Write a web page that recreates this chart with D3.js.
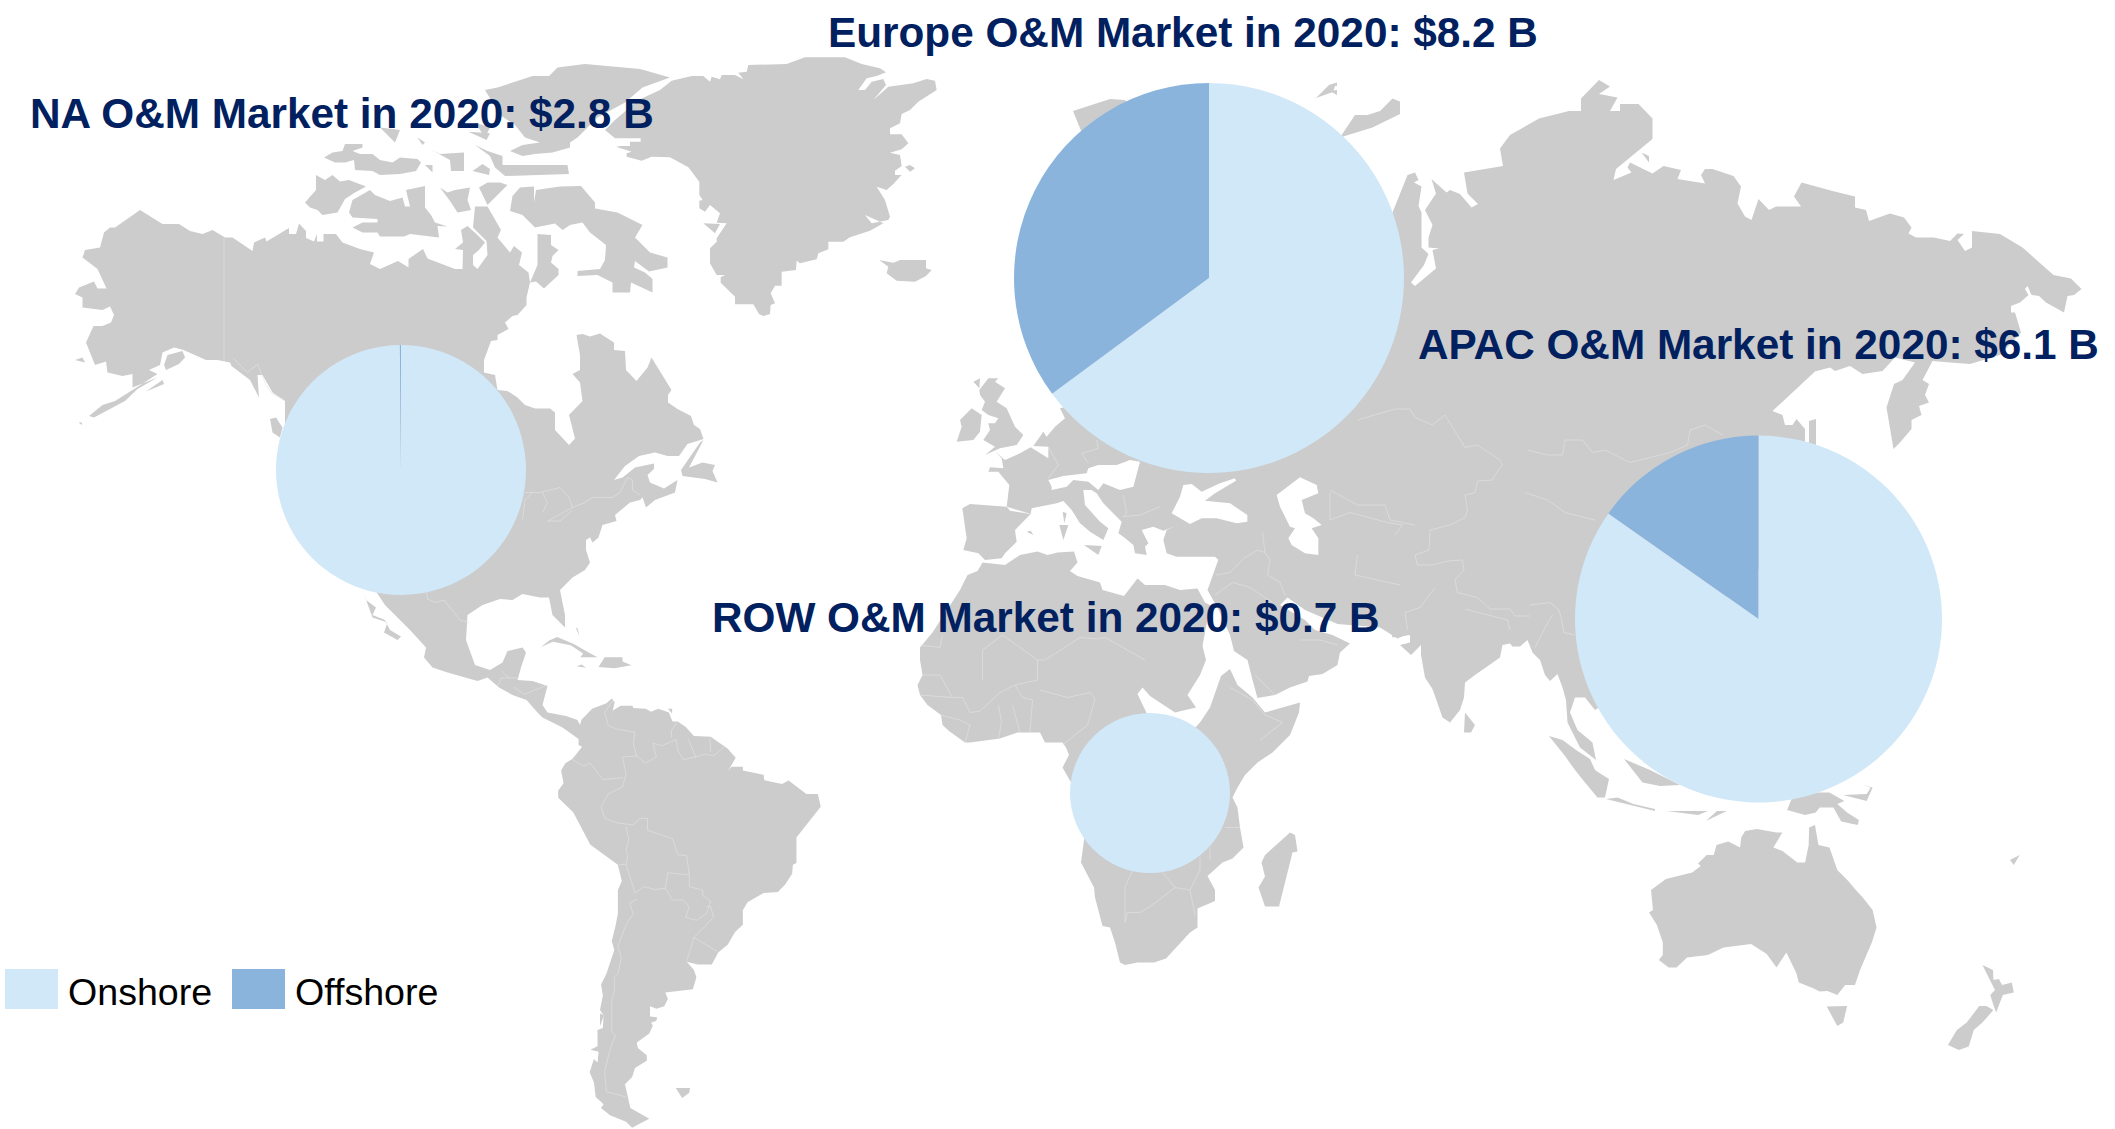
<!DOCTYPE html>
<html>
<head>
<meta charset="utf-8">
<script src="https://cdn.jsdelivr.net/npm/d3@7"></script>
<style>
  html, body { margin: 0; padding: 0; background: #fff; }
  svg { display: block; }
  text { font-family: "Liberation Sans", Arial, sans-serif; }
</style>
</head>
<body>
<svg id="chart" width="2115" height="1129"></svg>
<script>
// market values, $B
var regions = ["NA", "Europe", "APAC", "ROW"];
var marketTotal = [2.8, 8.2, 6.1, 0.7];
var onshore = [2.796, 5.32, 5.17, 0.7];
var offshore = [0.004, 2.88, 0.93, 0];
var seriesNames = ["Onshore", "Offshore"];
var seriesColors = ["#d1e8f8", "#8bb4dc"];

// where each region's pie and title sit on the page
var pieCenter = [[401, 470], [1209, 278], [1758.5, 619], [1150, 793]];
var titleAnchor = [[30, 127.5], [828, 47], [1418, 358.5], [712, 631.5]];

// pies are not quite area scaled in the original
var radius = d3.scaleLinear().domain([0.7, 2.8, 6.1, 8.2]).range([80, 125, 183.5, 195]);

var tiles = {
  na: [60, 40, 2, 2],
  eu: [880, 340, 2, 2],
  ez: [900, 340, 3, 3],
  as: [1330, 50, 2, 2],
  oc: [1500, 345, 1568 / 615, 2],
  sa: [360, 560, 2.8, 2.756],
  gn: [560, 40, 3, 3],
  ar: [300, 60, 3, 3],
  px: [0, 0, 1, 1]
};

// each entry: tile, outer ring, then holes
var land = [
  // Alaska, Canada, USA, Mexico, Central America
  ["na", "160,340 205,368 238,368 260,382 285,388 305,380 330,395 345,395 385,422 388,405 410,395 413,403 458,376 458,388 472,388 478,367 492,382 492,396 508,403 514,388 514,403 527,403 527,388 552,388 565,405 600,418 628,425 620,448 640,458 676,442 697,455 697,438 726,418 735,437 790,458 805,458 806,420 790,418 806,405 802,380 815,372 835,390 850,405 838,420 826,430 826,450 835,458 855,430 853,402 826,375 830,333 855,333 882,380 875,395 900,425 908,412 924,425 918,450 937,465 940,485 952,483 968,497 997,470 997,458 982,445 985,432 997,420 982,410 982,390 955,388 955,450 940,485 933,515 933,530 915,550 905,552 890,565 897,578 875,590 875,600 862,602 848,640 848,665 870,670 875,700 895,702 915,715 930,730 950,737 980,737 990,745 990,780 1018,810 1030,797 1018,750 1045,722 1040,685 1025,668 1040,660 1040,630 1033,590 1045,588 1060,593 1080,587 1108,605 1108,620 1130,622 1132,660 1153,682 1175,655 1183,635 1223,700 1216,710 1216,725 1235,738 1262,752 1268,770 1280,778 1287,798 1255,808 1238,832 1215,832 1190,825 1158,832 1130,852 1108,880 1125,875 1150,855 1188,847 1188,858 1175,870 1180,885 1208,897 1235,880 1230,905 1190,920 1172,935 1165,915 1160,920 1140,925 1110,950 1113,962 1085,970 1077,995 1065,1005 1060,995 1052,1000 1052,1020 1060,1045 1050,1060 1025,1075 1000,1100 1010,1150 1010,1175 985,1150 978,1115 960,1115 925,1108 905,1120 880,1118 845,1130 815,1150 812,1200 830,1250 860,1260 885,1245 895,1222 925,1215 932,1225 922,1255 915,1280 945,1282 975,1292 965,1330 975,1345 1012,1352 1035,1360 1045,1380 1040,1400 1005,1375 985,1365 965,1355 955,1345 933,1320 905,1310 878,1295 855,1275 835,1282 775,1265 745,1255 728,1235 732,1215 700,1180 685,1165 675,1155 650,1130 630,1100 560,1050 470,800 450,770 450,722 425,705 405,670 395,670 398,715 380,680 343,652 340,645 315,640 292,640 247,620 228,615 205,625 200,650 178,660 195,668 145,700 110,722 85,730 58,752 68,755 130,722 155,698 195,675 145,695 145,668 125,672 95,665 92,643 70,650 52,605 67,572 85,572 102,565 108,550 100,533 85,540 45,535 45,515 30,508 38,495 68,483 75,497 93,497 75,458 45,435 50,420 80,415 88,385 100,375 110,375 140,355"],
  ["na", "605,1100 612,1120 632,1135 625,1150 650,1160 660,1180 682,1193 675,1200 648,1185 655,1165 625,1155 612,1125"],
  ["na", "245,622 250,635 238,648 212,660 208,650 215,630 228,615"],
  ["na", "172,703 205,680 208,688 180,710"],
  ["na", "30,640 45,635 50,645 42,650"],
  ["na", "37,765 44,765 44,770 37,770"],
  ["na", "420,758 432,755 445,775 440,795 425,785 428,770"],
  // Arctic islands
  ["na", "578,345 585,320 620,300 630,310 650,318 660,322 685,315 690,333 700,333 692,300 730,292 730,335 742,350 750,365 775,373 755,372 758,395 700,388 688,393 640,393 635,385 605,385 585,375 605,365 635,365 635,358 585,355 570,345"],
  ["na", "512,270 530,280 545,270 560,283 578,280 612,293 590,305 570,318 555,345 525,350 515,340 500,335 490,325 512,300 510,285"],
  ["na", "528,235 545,225 565,222 570,208 605,208 605,215 585,222 600,228 625,228 640,240 665,245 680,235 715,238 722,245 712,262 680,268 640,270 625,262 590,260 588,240 570,245 550,245 530,240"],
  ["na", "760,295 775,305 790,300 820,295 815,320 822,340 795,345 780,322 760,318"],
  ["na", "838,295 855,285 880,285 895,290 875,310 855,330 838,328"],
  ["na", "730,250 745,250 745,265 730,265"],
  ["na", "740,218 760,228 808,225 808,262 782,262 780,240 745,242"],
  ["na", "825,262 845,248 860,258 858,270 830,268"],
  ["na", "830,210 855,222 885,232 885,250 1015,250 1018,268 890,272 870,255 860,232 835,225"],
  ["na", "850,100 875,95 945,72 978,72 995,55 1050,48 1160,58 1220,75 1165,95 1130,125 1075,155 1035,195 1020,205 1020,215 985,225 950,228 925,232 900,222 925,210 960,205 930,195 910,170 880,150 860,130"],
  ["na", "640,175 680,180 670,205 640,205"],
  ["na", "715,195 730,205 725,210 715,205"],
  ["na", "830,165 860,175 850,195 825,190"],
  ["ar", "350,235 375,250 365,260"],
  ["ar", "505,215 570,220 560,240 530,235"],
  ["ar", "950,258 990,258 990,268 950,268"],
  ["na", "900,342 905,312 920,295 948,293 948,325 952,300 1000,293 1042,292 1070,325 1070,337 1115,345 1165,370 1150,395 1180,425 1215,435 1215,455 1178,463 1150,442 1148,455 1170,465 1185,478 1185,505 1142,485 1140,505 1105,505 1105,485 1075,470 1035,472 1035,462 1080,458 1090,440 1092,410 1060,385 1045,365 1020,370 1005,380 990,367 950,375 925,350 905,350"],
  ["na", "1012,722 1025,715 1025,728"],
  ["na", "1280,805 1287,800 1258,855 1285,845 1310,850 1305,862 1315,885 1290,878 1245,872 1242,860 1258,835"],
  // Greenland, Iceland
  ["gn", "335,122 395,108 430,108 450,125 455,110 480,118 485,105 525,105 550,118 535,98 560,95 565,75 680,72 735,52 855,52 905,72 960,85 978,97 950,108 920,115 895,150 915,150 935,125 970,117 978,135 940,180 985,140 1060,130 1100,117 1125,122 1130,150 1075,185 1050,210 1025,222 1020,250 990,265 990,283 1025,283 1045,310 1025,328 990,338 1020,345 1025,378 1005,392 1005,405 1025,405 1000,432 980,450 950,440 975,480 990,530 985,540 935,550 915,525 970,550 930,572 870,592 850,605 805,605 805,628 775,640 770,658 720,670 710,662 708,690 665,695 665,737 645,737 632,760 645,790 632,795 630,822 610,828 597,822 580,793 525,793 525,770 482,728 482,712 495,705 470,705 450,670 450,625 470,605 470,595 500,550 470,548 480,520 450,495 435,515 418,505 418,482 428,480 418,465 418,425 385,382 330,352 275,350 245,362 200,350 200,340 215,335 168,320 210,318 210,305 242,305 242,295 165,295 135,270 165,240 235,180 300,150 325,125"],
  ["gn", "430,550 480,552 465,580 440,582"],
  ["gn", "1035,380 1050,375 1065,385 1050,395 1035,395"],
  ["gn", "958,660 1000,668 1020,660 1050,660 1098,660 1098,685 1115,690 1098,708 1065,725 1010,722 980,700 985,680 960,672"],
  // Caribbean and South America
  ["sa", "507,240 530,222 552,212 600,232 640,255 665,268 617,268 625,258 590,235 540,225 520,242"],
  ["sa", "668,295 685,268 735,268 735,280 760,290 712,298 705,290"],
  ["sa", "607,293 620,288 633,297 622,305"],
  ["sa", "785,288 803,297 785,297"],
  ["sa", "604,185 610,190 614,210 606,205"],
  ["sa", "617,158 635,190 622,175"],
  ["sa", "862,410 874,410 874,423 862,423"],
  ["sa", "862,325 872,325 865,333"],
  ["sa", "395,578 406,578 405,587"],
  ["sa", "884,1455 924,1455 922,1468 902,1483 885,1470"],
  ["sa", "620,440 650,410 690,395 705,382 713,392 703,435 708,415 730,402 763,402 765,408 800,410 815,418 835,410 865,420 875,445 890,445 912,460 935,485 982,487 1030,520 1052,545 1030,582 1040,570 1072,570 1072,580 1130,592 1132,607 1182,617 1200,608 1250,645 1282,645 1290,680 1222,765 1222,835 1212,840 1210,865 1190,895 1170,915 1130,918 1085,943 1072,965 1072,1005 1050,1025 1030,1060 1003,1082 985,1115 945,1115 915,1107 935,1130 942,1150 932,1183 855,1192 862,1210 852,1230 830,1237 812,1230 812,1258 832,1260 830,1270 815,1275 820,1283 810,1305 775,1330 778,1345 803,1365 803,1380 770,1400 762,1425 742,1445 757,1510 810,1540 780,1555 762,1565 745,1548 700,1530 675,1510 682,1500 660,1480 655,1440 643,1412 655,1375 665,1385 668,1355 645,1350 665,1340 665,1295 680,1290 682,1255 672,1240 680,1200 675,1170 690,1140 712,1075 705,1050 715,1010 722,975 722,910 733,885 722,840 645,785 597,695 555,655 555,635 570,615 563,580 575,560 595,548 622,515 612,510 612,470 620,450"],
  ["sa", "672,1250 683,1255 672,1285 665,1278"],
  // Africa
  ["eu", "160,500 175,470 195,462 205,445 250,450 280,430 315,423 335,430 355,425 388,423 395,445 380,462 395,472 440,485 445,500 488,512 515,477 530,490 570,490 600,500 635,497 650,525 660,530 645,612 652,640 640,670 615,710 632,735 590,745 540,712 525,695 515,708 535,750 480,900 385,890 365,855 378,830 372,815 365,805 330,805 320,785 275,785 240,797 180,805 170,805 138,782 125,770 122,750 95,730 80,710 75,690 85,670 80,640 80,615 105,585 130,530"],
  ["eu", "640,765 660,735 682,672 700,658 715,690 745,715 770,745 840,725 838,745 820,790 785,825 755,845 730,870 715,895 705,915 715,935 720,975 727,1015 705,1037 685,1045 655,1072 670,1100 670,1122 635,1137 635,1175 620,1185 572,1237 548,1245 515,1245 490,1250 480,1245 470,1205 460,1175 445,1172 430,1115 428,1095 402,1045 408,1000 430,900 560,850 660,790"],
  ["eu", "820,985 830,990 835,1023 825,1025 798,1133 770,1133 757,1095 770,1073 763,1045 770,1030 805,1010"],
  ["eu", "913,1072 920,1080 913,1080"],
  // Europe and the Mediterranean, with the Black Sea, Caspian and the blank central patch as holes
  ["ez", "320,500 328,435 295,395 265,395 270,382 310,385 305,355 285,335 315,360 360,340 392,322 445,355 445,320 400,318 430,275 440,290 465,260 495,235 480,205 700,150 1450,150 1450,700 1000,700 945,650 880,650 830,650 800,640 790,600 800,570 835,555 830,557 790,572 760,560 725,570 745,610 735,620 740,645 705,640 700,615 670,590 655,580 665,545 610,490 590,460 575,450 550,450 555,495 600,545 625,565 610,600 570,575 540,550 515,510 490,483 470,490 395,505 392,522 330,512",
    "815,520 840,470 850,435 875,432 905,455 960,430 1005,415 1008,422 945,460 915,482 990,490 1042,525 1042,545 1010,550 950,535 905,535 870,552 825,552",
    "1200,412 1250,435 1255,460 1205,480 1215,520 1240,535 1265,555 1235,565 1255,595 1255,645 1215,640 1175,615 1165,595 1185,565 1170,560 1140,500 1130,465 1165,425",
    "445,420 455,440 455,450 500,440 520,420 565,425 595,450 610,430 660,450 700,440 720,365 690,360 650,375 595,375 565,385 560,400 490,408 450,412"],
  ["ez", "187,505 210,492 320,500 330,512 392,522 345,570 350,605 315,640 305,655 255,660 235,640 190,630 200,595 190,580"],
  ["ez", "265,115 295,115 285,125 315,145 290,185 320,205 345,260 370,285 350,315 300,325 255,345 285,320 250,300 270,270 265,250 285,250 295,235 265,225 245,210 255,185 240,165 238,150 255,125"],
  ["ez", "180,240 215,205 245,225 240,275 220,300 170,305 185,260 178,245"],
  ["ez", "220,125 240,115 238,145 222,140"],
  ["ez", "478,555 505,555 490,600 480,590"],
  ["ez", "488,515 500,520 493,550 487,548"],
  ["ez", "552,615 605,618 595,645 565,630"],
  ["ez", "380,575 392,572 400,585 390,592"],
  ["ez", "745,672 785,672 745,680"],
  ["ez", "885,680 925,665 900,688"],
  ["px", "1073,111 1110,99 1125,100 1200,200 1150,300 1073,125"],
  ["px", "1316,98 1329,85 1336,83 1333,92 1324,99"],
  // Middle East
  ["eu", "680,430 1100,430 1100,570 1035,597 1000,575 915,568 850,540 815,515 800,530 850,560 870,580 905,590 940,607 920,625 915,650 885,668 858,672 855,683 820,695 790,710 755,716 745,680 735,640 708,622 700,590 680,545 655,500 672,470"],
  // Russia, China, India, Japan, Indochina
  ["as", "125,325 155,250 170,245 177,260 168,265 183,273 177,312 183,325 183,395 197,408 188,430 162,465 170,472 212,437 205,400 218,397 197,395 197,375 205,350 190,320 212,287 203,258 233,285 240,280 260,288 283,315 296,308 275,287 268,245 346,232 340,197 360,170 418,137 478,122 502,122 502,97 538,60 560,73 538,88 575,95 560,122 580,122 580,108 617,108 645,137 645,178 572,238 567,260 603,245 595,235 600,225 645,247 667,232 702,240 695,258 750,267 742,250 750,238 765,238 807,252 822,273 815,307 830,333 843,340 857,298 878,320 892,313 942,313 928,293 943,265 1005,282 1050,293 1050,315 1072,320 1078,342 1120,327 1148,335 1163,355 1157,367 1172,375 1208,375 1240,382 1255,367 1268,368 1255,380 1270,402 1284,395 1284,362 1340,368 1385,395 1447,450 1482,457 1503,478 1488,490 1475,492 1468,525 1432,505 1418,492 1403,490 1395,472 1390,478 1397,490 1380,505 1362,512 1362,525 1370,525 1382,565 1340,610 1280,628 1240,625 1205,622 1185,660 1198,668 1190,690 1198,705 1178,712 1183,730 1163,740 1163,758 1140,785 1127,798 1113,715 1128,668 1145,660 1170,625 1130,615 1105,642 1065,648 1040,632 1010,642 1000,635 970,643 885,722 905,730 910,750 925,750 933,738 950,758 950,785 958,785 958,742 972,738 972,795 900,1000 560,1300 530,1320 510,1295 490,1295 480,1325 495,1360 525,1385 532,1420 500,1395 475,1345 472,1300 465,1275 455,1248 440,1262 430,1250 420,1220 405,1205 395,1180 380,1193 365,1193 360,1187 345,1190 340,1215 290,1250 270,1265 268,1295 260,1320 240,1345 225,1335 205,1278 190,1255 182,1210 182,1190 162,1210 140,1190 160,1185 160,1170 125,1175 120,1155 60,1150 0,1130 10,700"],
  ["as", "20,175 50,130 75,130 100,122 125,97 140,103 140,128 85,155 45,185"],
  ["as", "0,70 14,65 14,72 0,78"],
  ["as", "0,82 14,80 14,90 0,90"],
  ["as", "623,205 638,212 638,225 625,215"],
  ["as", "1105,805 1120,797 1110,812"],
  ["as", "270,1325 290,1350 282,1365 268,1365 260,1345"],
  ["as", "438,1372 465,1380 495,1402 520,1418 530,1440 545,1450 558,1458 550,1495 535,1495 510,1465 490,1440 470,1412 438,1385"],
  ["as", "588,1418 640,1440 700,1470 660,1472 625,1465 610,1460"],
  // Indonesia, Australia, Pacific
  ["oc", "270,908 300,905 340,918 395,928 395,932 305,925"],
  ["oc", "425,932 530,932 505,940 455,935 425,940"],
  ["oc", "460,945 490,952 465,950"],
  ["oc", "525,952 553,932 578,932 545,953"],
  ["oc", "732,930 745,905 775,895 840,895 878,912 860,918 885,935 915,950 912,960 870,953 850,925 815,925 805,935 778,940 760,928"],
  ["oc", "875,900 935,898 945,885 925,880 950,885 935,912 900,912"],
  ["oc", "470,885 480,905 470,905"],
  ["oc", "980,900 995,915 985,915"],
  ["oc", "1040,940 1058,948 1045,948"],
  ["oc", "1150,1002 1158,1008 1151,1015"],
  ["oc", "1300,1030 1325,1020 1310,1040 1295,1042"],
  ["oc", "1113,1063 1147,1090 1135,1088"],
  ["oc", "385,1090 423,1068 490,1055 512,1042 505,1037 527,1020 545,1020 552,1000 582,993 612,1005 615,985 625,972 655,968 705,975 720,975 697,1005 720,1012 758,1035 778,1035 787,1000 788,965 803,960 812,1000 840,1005 860,1050 888,1072 905,1088 925,1105 950,1130 960,1165 948,1195 918,1250 905,1280 880,1280 860,1300 835,1292 815,1293 800,1287 762,1275 755,1255 730,1215 705,1245 680,1218 640,1198 570,1205 530,1220 477,1225 450,1245 430,1245 405,1230 415,1220 415,1195 400,1160 380,1135 390,1130 380,1105"],
  ["oc", "833,1323 885,1322 875,1355 860,1362 842,1355"],
  ["oc", "1230,1240 1257,1250 1258,1270 1272,1268 1280,1280 1305,1275 1310,1295 1282,1300 1265,1335 1258,1320 1250,1300 1262,1290 1258,1272"],
  ["oc", "1222,1322 1240,1322 1258,1330 1230,1355 1208,1370 1195,1403 1170,1410 1142,1400 1165,1370 1190,1355 1210,1340"]
];

var borders = [
  ["na", "328,395 328,642"],
  ["na", "345,635 375,665 395,648 412,690 425,708 448,720"],
  ["na", "733,1100 735,1118 750,1125 768,1120 800,1160 818,1165"],
  ["na", "930,905 960,905 1000,895 1018,915 1025,935 1050,925 1065,915 1105,915 1120,905 1135,875 1145,880 1145,900 1160,910"],
  ["na", "925,960 930,920 945,905"],
  ["na", "965,905 975,925 965,945"],
  ["na", "1025,935 975,962 1000,962 1025,940"],
  ["sa", "395,305 418,325 445,325"],
  ["sa", "385,350 395,325 418,325"],
  ["sa", "430,350 460,370 525,345"],
  ["sa", "710,385 685,420 695,455 715,465 770,475 765,505 775,540 800,560 830,543 820,505 845,512 885,495 890,525 905,550 940,543 965,535 990,540 1020,515"],
  ["sa", "890,445 872,470 872,490"],
  ["sa", "920,495 940,543"],
  ["sa", "980,490 982,530"],
  ["sa", "735,543 775,540"],
  ["sa", "735,543 745,590 735,625 695,645 675,680 685,712 722,725 765,730 785,712 805,712"],
  ["sa", "595,550 625,568 645,560 680,605 735,600"],
  ["sa", "745,735 753,770 745,800 750,815 745,838 725,840"],
  ["sa", "805,712 805,745 875,768 890,812 915,815 922,868 862,862 855,905 825,908 795,900 770,918 745,838"],
  ["sa", "855,905 875,937 905,937 922,955 912,985 942,993 970,975 982,940 960,925 960,910 922,900 922,868"],
  ["sa", "755,945 765,975 745,1005 722,1065 732,1095 722,1140 712,1150 712,1190 705,1210 705,1300 715,1310 700,1350 685,1410 690,1465 745,1480"],
  ["sa", "755,945 775,935"],
  ["sa", "915,1105 935,1040 1002,1080"],
  ["sa", "935,1040 990,985 982,955 970,955"],
  ["eu", "85,670 120,670 145,715 80,710"],
  ["eu", "145,715 165,715 180,745 200,742 240,705 270,690 315,680 315,640 245,590 205,620 205,680"],
  ["eu", "315,640 330,640 400,595 435,598 450,595 530,640"],
  ["eu", "270,690 285,715 305,720 300,785"],
  ["eu", "237,730 243,765 237,797"],
  ["eu", "265,730 280,785"],
  ["eu", "120,750 160,760 180,770 170,805"],
  ["eu", "320,700 375,715 420,705 430,718 415,770 365,810"],
  ["eu", "80,610 120,615 125,590"],
  ["eu", "490,1165 490,1095 505,1060"],
  ["eu", "490,1165 495,1145 520,1145 545,1130 590,1095 620,1100 640,1060 640,1035"],
  ["eu", "590,1095 565,1065"],
  ["eu", "700,695 745,720 770,750 805,765 760,800"],
  ["eu", "620,1100 630,1150"],
  ["eu", "660,1015 660,1040"],
  ["eu", "690,975 720,975"],
  ["eu", "765,385 770,425 780,440 775,470 800,485 810,510"],
  ["eu", "670,510 705,485 740,495 785,525"],
  ["eu", "672,470 700,465 730,435 755,420 770,425"],
  ["eu", "790,710 750,670"],
  ["eu", "840,600 880,600 915,610"],
  ["eu", "955,430 950,470 1040,490"],
  ["eu", "900,305 900,360 940,345 1015,365 1045,370 1030,390"],
  ["ez", "320,500 390,522"],
  ["ez", "445,320 475,375 445,415"],
  ["ez", "590,300 595,325 545,340 565,370"],
  ["ez", "670,465 680,520 670,530 720,525 780,500"],
  ["as", "55,740 130,718 160,718 170,735 205,750 230,730 270,795 295,790 340,820 345,830"],
  ["as", "395,800 435,810 465,810 470,780 505,780 525,805 550,800 600,825 640,815 680,805 715,790 720,760 750,750 785,770"],
  ["as", "345,830 330,850 325,860 295,862 290,885 270,890 275,920 270,935 240,950 200,960 198,1000 170,1010 175,1030"],
  ["as", "390,885 435,900 470,925 530,940"],
  ["as", "175,1030 205,1030 235,1022 265,1020 268,1040 250,1060 255,1085 295,1095 320,1118 360,1118 370,1132 400,1132"],
  ["as", "400,1110 440,1105 458,1120 462,1135 468,1165 490,1170"],
  ["as", "270,1118 355,1140 360,1160"],
  ["as", "210,1075 180,1115 150,1125 155,1160"],
  ["as", "0,880 55,910 110,910 120,940 170,950"],
  ["as", "410,1195 430,1155 445,1130"]
];

function parseRing(tile, str) {
  var t = tiles[tile];
  return str.split(" ").map(function(p) {
    var xy = p.split(",");
    return [t[0] + xy[0] / t[2], t[1] + xy[1] / t[3]];
  });
}

var svg = d3.select("#chart");
var geoPath = d3.geoPath(d3.geoIdentity());

/* base map */
var mapGroup = svg.append("g").attr("class", "map");

mapGroup.selectAll("path.land")
  .data(land)
  .enter().append("path")
  .attr("class", "land")
  .attr("fill", "#cccccc")
  .attr("fill-rule", "evenodd")
  .attr("d", function(d) {
    var rings = d.slice(1).map(function(r) { return parseRing(d[0], r); });
    return geoPath({type: "Polygon", coordinates: rings});
  });

mapGroup.selectAll("path.border")
  .data(borders)
  .enter().append("path")
  .attr("class", "border")
  .attr("fill", "none")
  .attr("stroke", "#e4e4e4")
  .attr("stroke-width", 0.6)
  .attr("d", function(d) {
    return geoPath({type: "LineString", coordinates: parseRing(d[0], d[1])});
  });

/* pies */
var pie = d3.pie().sort(null);

var pieGroups = svg.selectAll("g.pie")
  .data(regions)
  .enter().append("g")
  .attr("class", "pie")
  .attr("transform", function(d, i) {
    return "translate(" + pieCenter[i][0] + "," + pieCenter[i][1] + ")";
  });

pieGroups.each(function(d, i) {
  var arc = d3.arc().innerRadius(0).outerRadius(radius(marketTotal[i]));
  d3.select(this).selectAll("path")
    .data(pie([onshore[i], offshore[i]]))
    .enter().append("path")
    .attr("fill", function(s, j) { return seriesColors[j]; })
    .attr("d", arc);
});

/* region titles */
svg.selectAll("text.title")
  .data(regions)
  .enter().append("text")
  .attr("class", "title")
  .attr("x", function(d, i) { return titleAnchor[i][0]; })
  .attr("y", function(d, i) { return titleAnchor[i][1]; })
  .attr("fill", "#002060")
  .attr("font-size", 42.3)
  .attr("font-weight", "bold")
  .text(function(d, i) { return d + " O&M Market in 2020: $" + marketTotal[i].toFixed(1) + " B"; });

/* legend */
var legendX = d3.scaleOrdinal().domain(seriesNames).range([5, 232]);

var legend = svg.selectAll("g.legend")
  .data(seriesNames)
  .enter().append("g")
  .attr("class", "legend")
  .attr("transform", function(d) { return "translate(" + legendX(d) + ",969)"; });

legend.append("rect")
  .attr("width", 53)
  .attr("height", 40)
  .attr("fill", function(d, i) { return seriesColors[i]; });

legend.append("text")
  .attr("x", 63)
  .attr("y", 35.5)
  .attr("fill", "#000")
  .attr("font-size", 37.6)
  .text(function(d) { return d; });
</script>
</body>
</html>
